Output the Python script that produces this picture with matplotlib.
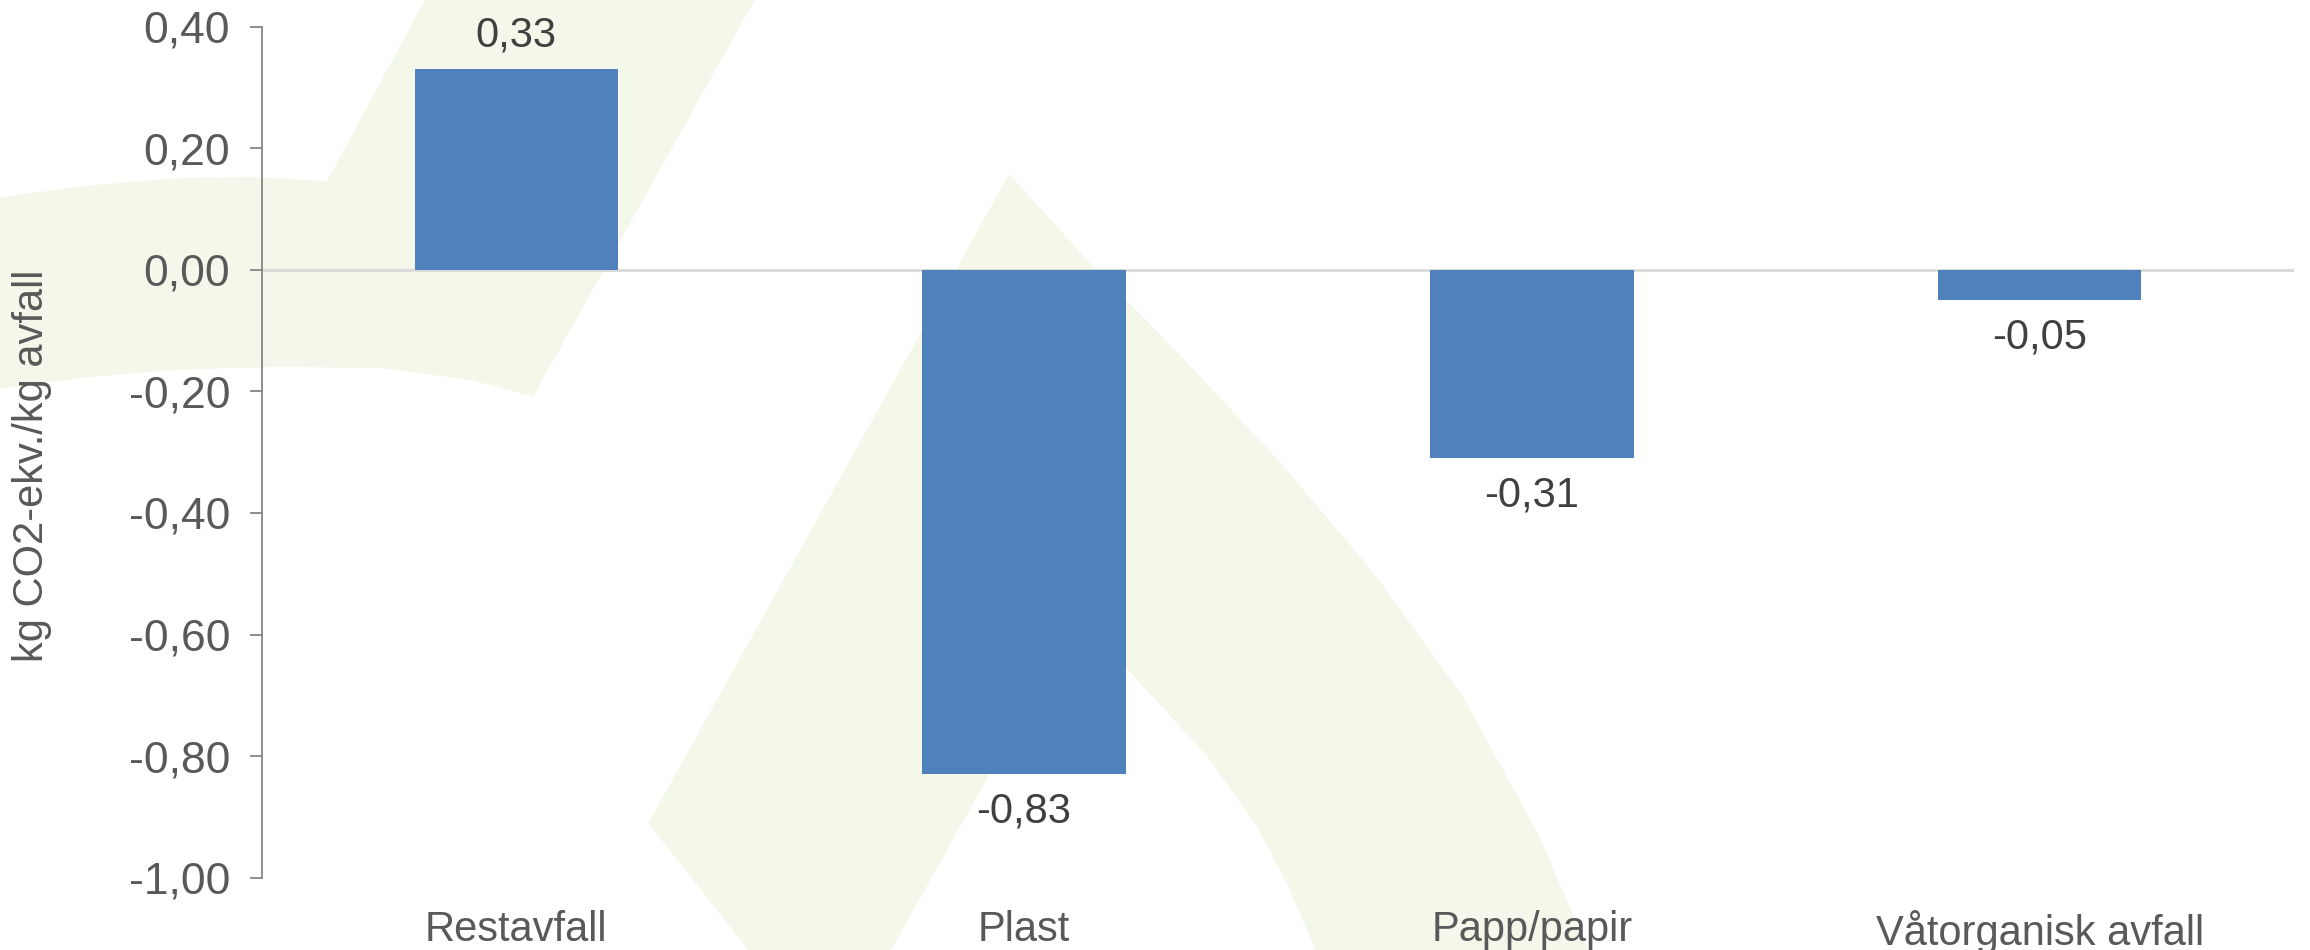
import matplotlib
matplotlib.use("Agg")
import matplotlib.pyplot as plt
from matplotlib.patches import Polygon
from matplotlib.ticker import FuncFormatter

categories = ["Restavfall", "Plast", "Papp/papir", "Våtorganisk avfall"]
values = [0.33, -0.83, -0.31, -0.05]
y_ticks = [0.40, 0.20, 0.00, -0.20, -0.40, -0.60, -0.80, -1.00]

BAR = "#4F81BD"
GREEN = "#F4F8EB"

plt.rcParams["font.family"] = ["Liberation Sans", "DejaVu Sans"]

fig = plt.figure(figsize=(23.1, 9.5), dpi=100)
ax = fig.add_axes([0.1135, 0.076, 0.8795, 0.896])
ax.patch.set_alpha(0)
ax.set_zorder(2)


def fig_pts(pts):
    # background shapes traced in a 1568x645 grid
    return [(x / 1568, 1 - y / 645) for x, y in pts]


# faint logo watermark behind the chart
shape_a = [(0, 134), (60, 126), (120, 121), (170, 120), (222, 123), (291, -5),
           (515, -5), (362, 269), (320, 258), (260, 250), (191, 249),
           (120, 251), (60, 256), (0, 264)]
shape_b = [(685, 118), (742, 181), (800, 240), (870, 315), (934, 391),
           (993, 473), (1045, 568), (1080, 650), (895, 650), (876, 605),
           (855, 564), (820, 514), (764, 453), (732, 418), (602, 650),
           (512, 650), (440, 559)]
for pts in (shape_a, shape_b):
    fig.patches.append(Polygon(fig_pts(pts), closed=True, transform=fig.transFigure,
                               facecolor=GREEN, edgecolor="none", zorder=-1))

x = range(len(categories))
bars = ax.bar(x, values, width=0.40, color=BAR, zorder=2)

for rect, v in zip(bars, values):
    label = f"{v:.2f}".replace(".", ",")
    cx = rect.get_x() + rect.get_width() / 2
    off = 24 if v >= 0 else -27
    ax.annotate(label, (cx, v), xytext=(0, off), textcoords="offset points",
                ha="center", va="center", fontsize=30, color="#404040",
                annotation_clip=False)

ax.axhline(0, color="#D9D9D9", lw=2, zorder=1)

ax.set_xlim(-0.5, 3.5)
ax.set_ylim(-1.0, 0.40)
ax.set_yticks(y_ticks)
ax.yaxis.set_major_formatter(FuncFormatter(lambda v, p: f"{v:.2f}".replace(".", ",")))
ax.set_xticks(list(x))
ax.set_xticklabels(categories)

for s in ("top", "right", "bottom"):
    ax.spines[s].set_visible(False)
ax.spines["left"].set_color("#868686")
ax.spines["left"].set_linewidth(1.3)

ax.tick_params(axis="y", direction="out", length=9, width=1.3, color="#868686",
               labelsize=32, labelcolor="#595959", pad=14)
ax.tick_params(axis="x", length=0, labelsize=30, labelcolor="#595959", pad=23)

fig.text(0.014, 0.51, "kg CO2-ekv./kg avfall", rotation=90, ha="center", va="center",
         fontsize=30, color="#595959")

fig.savefig("out.png", dpi=100)
